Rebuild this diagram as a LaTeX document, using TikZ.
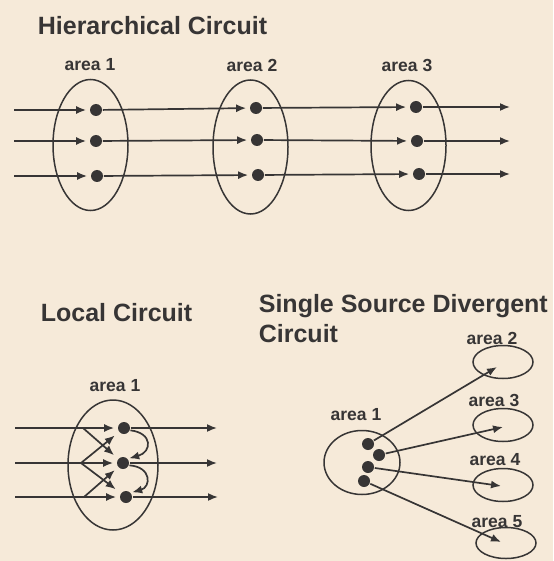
\documentclass[tikz,border=0pt]{standalone}
\usepackage{fontspec}
\setmainfont{Liberation Sans}
\usepackage{tikz}
\usetikzlibrary{arrows.meta,shapes.geometric}
\usepackage{xcolor}
\definecolor{paper}{RGB}{246,234,217}
\definecolor{ink}{RGB}{55,53,53}

\begin{document}
\begin{tikzpicture}[x=1pt,y=-1pt,>={Latex[length=10pt,width=8pt]},line width=1.7pt,
  dot/.style={circle,fill=ink,inner sep=0pt,minimum size=12pt},
  area/.style={ellipse,draw=ink,line width=1.5pt,inner sep=0pt},
  tag/.style={font=\bfseries\fontsize{17.5}{21}\selectfont,text=ink},
  heading/.style={font=\bfseries\fontsize{25}{30}\selectfont,text=ink,inner sep=0pt},
  link/.style={->,draw=ink,shorten >=3pt}]
\fill[paper] (0,0) rectangle (553,561);
% hierarchical circuit
\node[heading,anchor=base west] (hier) at (37,35) {Hierarchical Circuit};
\node[area,minimum width=75pt,minimum height=131pt] (e1) at (90.5,145) {};
\node[area,minimum width=75pt,minimum height=134pt] (e2) at (250.5,147) {};
\node[area,minimum width=75pt,minimum height=130pt] (e3) at (408.5,145.5) {};
\node[tag] (e1lab) at (90,65) {area 1};
\node[tag] (e2lab) at (252,65) {area 2};
\node[tag] (e3lab) at (407,65) {area 3};
\node[dot] (h11) at (96,110) {};
\node[dot] (h12) at (96,141) {};
\node[dot] (h13) at (97,176) {};
\node[dot] (h21) at (256,108) {};
\node[dot] (h22) at (257,140) {};
\node[dot] (h23) at (258,175) {};
\node[dot] (h31) at (416,107) {};
\node[dot] (h32) at (417,141) {};
\node[dot] (h33) at (419,174) {};
\coordinate (hin1) at (14,110);
\coordinate (hin2) at (14,141);
\coordinate (hin3) at (14,176);
\coordinate (hout1) at (510,107);
\coordinate (hout2) at (510,141);
\coordinate (hout3) at (510,174);
\draw[link] (hin1) -- (h11);
\draw[link] (hin2) -- (h12);
\draw[link] (hin3) -- (h13);
\draw[link] (h11) -- (h21);
\draw[link] (h12) -- (h22);
\draw[link] (h13) -- (h23);
\draw[link] (h21) -- (h31);
\draw[link] (h22) -- (h32);
\draw[link] (h23) -- (h33);
\draw[link,shorten >=0pt] (h31) -- (hout1);
\draw[link,shorten >=0pt] (h32) -- (hout2);
\draw[link,shorten >=0pt] (h33) -- (hout3);
% local circuit
\node[heading,anchor=base west] (local) at (40,321) {Local Circuit};
\node[area,minimum width=90pt,minimum height=130pt] (l0) at (113,465) {};
\node[tag] (l0lab) at (115,386) {area 1};
\node[dot] (l1) at (124,428) {};
\node[dot] (l2) at (123,463) {};
\node[dot] (l3) at (126,497) {};
\coordinate (lin1) at (15,428);
\coordinate (lin2) at (15,463);
\coordinate (lin3) at (15,497);
\coordinate (lfork1) at (83,428);
\coordinate (lfork2) at (81,463);
\coordinate (lfork3) at (84,497);
\coordinate (lout1) at (217,428);
\coordinate (lout2) at (217,463);
\coordinate (lout3) at (218,497);
\draw[link] (lin1) -- (l1);
\draw[link] (lin2) -- (l2);
\draw[link] (lin3) -- (l3);
\draw[link,shorten >=5pt] (lfork1) -- (l2);
\draw[link,shorten >=5pt] (lfork2) -- (l1);
\draw[link,shorten >=6pt] (lfork2) -- (l3);
\draw[link,shorten >=4pt] (lfork3) -- (l2);
\draw[link,shorten >=0pt] (l1) -- (lout1);
\draw[link,shorten >=0pt] (l2) -- (lout2);
\draw[link,shorten >=0pt] (l3) -- (lout3);
\draw[link,shorten >=1pt] (l1.-20) .. controls (153,433) and (152,452) .. (l2.40);
\draw[link,shorten >=1pt] (l2.-20) .. controls (152,467) and (151,487) .. (l3.40);
% single source divergent circuit
\node[heading,anchor=north west,align=left] (diverg) at (258,293.5) {Single Source Divergent\\Circuit};
\node[area,minimum width=76pt,minimum height=64pt] (d0) at (362,462.5) {};
\node[tag] (d0lab) at (356,415) {area 1};
\node[area,minimum width=60pt,minimum height=33pt] (a2) at (503,362) {};
\node[area,minimum width=60pt,minimum height=33pt] (a3) at (503,425) {};
\node[area,minimum width=60pt,minimum height=33pt] (a4) at (503,485) {};
\node[area,minimum width=60pt,minimum height=31pt] (a5) at (506,543) {};
\node[tag] (a2lab) at (492,338) {area 2};
\node[tag] (a3lab) at (494,400) {area 3};
\node[tag] (a4lab) at (495,460) {area 4};
\node[tag] (a5lab) at (497,522) {area 5};
\node[dot] (d1) at (368,444) {};
\node[dot] (d2) at (379,455) {};
\node[dot] (d3) at (368,467) {};
\node[dot] (d4) at (364,481) {};
\coordinate (a2tip) at (497,367);
\coordinate (a3tip) at (503,427);
\coordinate (a4tip) at (501,486);
\coordinate (a5tip) at (501,542);
\draw[link,shorten >=0pt] (d1) -- (a2tip);
\draw[link,shorten >=0pt] (d2) -- (a3tip);
\draw[link,shorten >=0pt] (d3) -- (a4tip);
\draw[link,shorten >=0pt] (d4) -- (a5tip);
\end{tikzpicture}
\end{document}
